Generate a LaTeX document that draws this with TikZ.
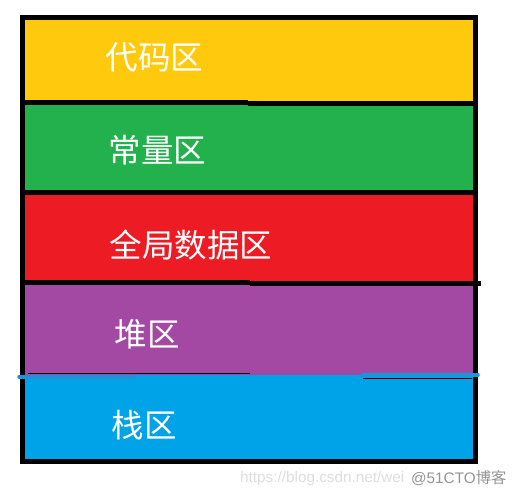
\documentclass[tikz,border=0pt]{standalone}
\usepackage{fontspec}
\setmainfont{Liberation Sans}
\newfontfamily\cjk{Noto Sans CJK SC}
\definecolor{cyellow}{HTML}{FFC90E}
\definecolor{cgreen}{HTML}{22B14C}
\definecolor{cred}{HTML}{ED1C24}
\definecolor{cpurple}{HTML}{A349A4}
\definecolor{cblue}{HTML}{00A2E8}
\definecolor{cblueline}{HTML}{1996DA}
\tikzset{
  lbl/.style={anchor=west, text=white, font=\cjk\fontsize{32.5}{34}\selectfont, inner sep=0pt},
  sep/.style={line width=5pt, black},
  frame/.style={line width=5pt, black},
  wm/.style={anchor=west, inner sep=0pt, font=\fontsize{15.3}{17}\selectfont}
}
\begin{document}
\begin{tikzpicture}[x=1pt,y=-1pt]
\useasboundingbox (0,0) rectangle (519,497);
% bands
\fill[cyellow] (22,17) rectangle (476,103);
\fill[cgreen] (22,103) rectangle (476,193);
\fill[cred] (22,193) rectangle (476,283);
\fill[cpurple] (22,283) rectangle (476,375);
\fill[cblue] (22,375) rectangle (476,461);
% separators
\draw[sep] (20,102.5) -- (248,102.5);
\draw[sep] (248,103.2) -- (474,103.2);
\draw[sep] (20,193) -- (250,193);
\draw[sep] (250,192.5) -- (474,192.5);
\draw[sep] (20,282.5) -- (250,282.5);
\draw[sep] (250,283.5) -- (481,283.5);
% thin lines near blue
\draw[black, line width=0.8pt] (28,373.8) -- (250,373.8);
\draw[black, line width=0.8pt] (363,378.6) -- (472,378.6);
% frame
\draw[frame] (22.5,17.5) rectangle (475.5,461.5);
% blue line
\draw[cblueline, line width=3.5pt, line cap=round] (19,376.8) -- (135,376.8);
\draw[cblueline, line width=3.5pt, line cap=round] (363,374.8) -- (478,374.8);
% labels
\node[lbl] (code) at (105.5,57) {代码区};
\node[lbl] (const) at (108.5,150) {常量区};
\node[lbl] (global) at (109.5,245) {全局数据区};
\node[lbl] (heap) at (114.5,334) {堆区};
\node[lbl] (stack) at (111.5,425) {栈区};
% watermark
\node[wm, text=black!13] (wm1) at (240,478.5) {https://blog.csdn.net/wei};
\node[wm, text=black!42] (wm2) at (411,478.5) {@51CTO{\cjk 博客}};
\end{tikzpicture}
\end{document}
